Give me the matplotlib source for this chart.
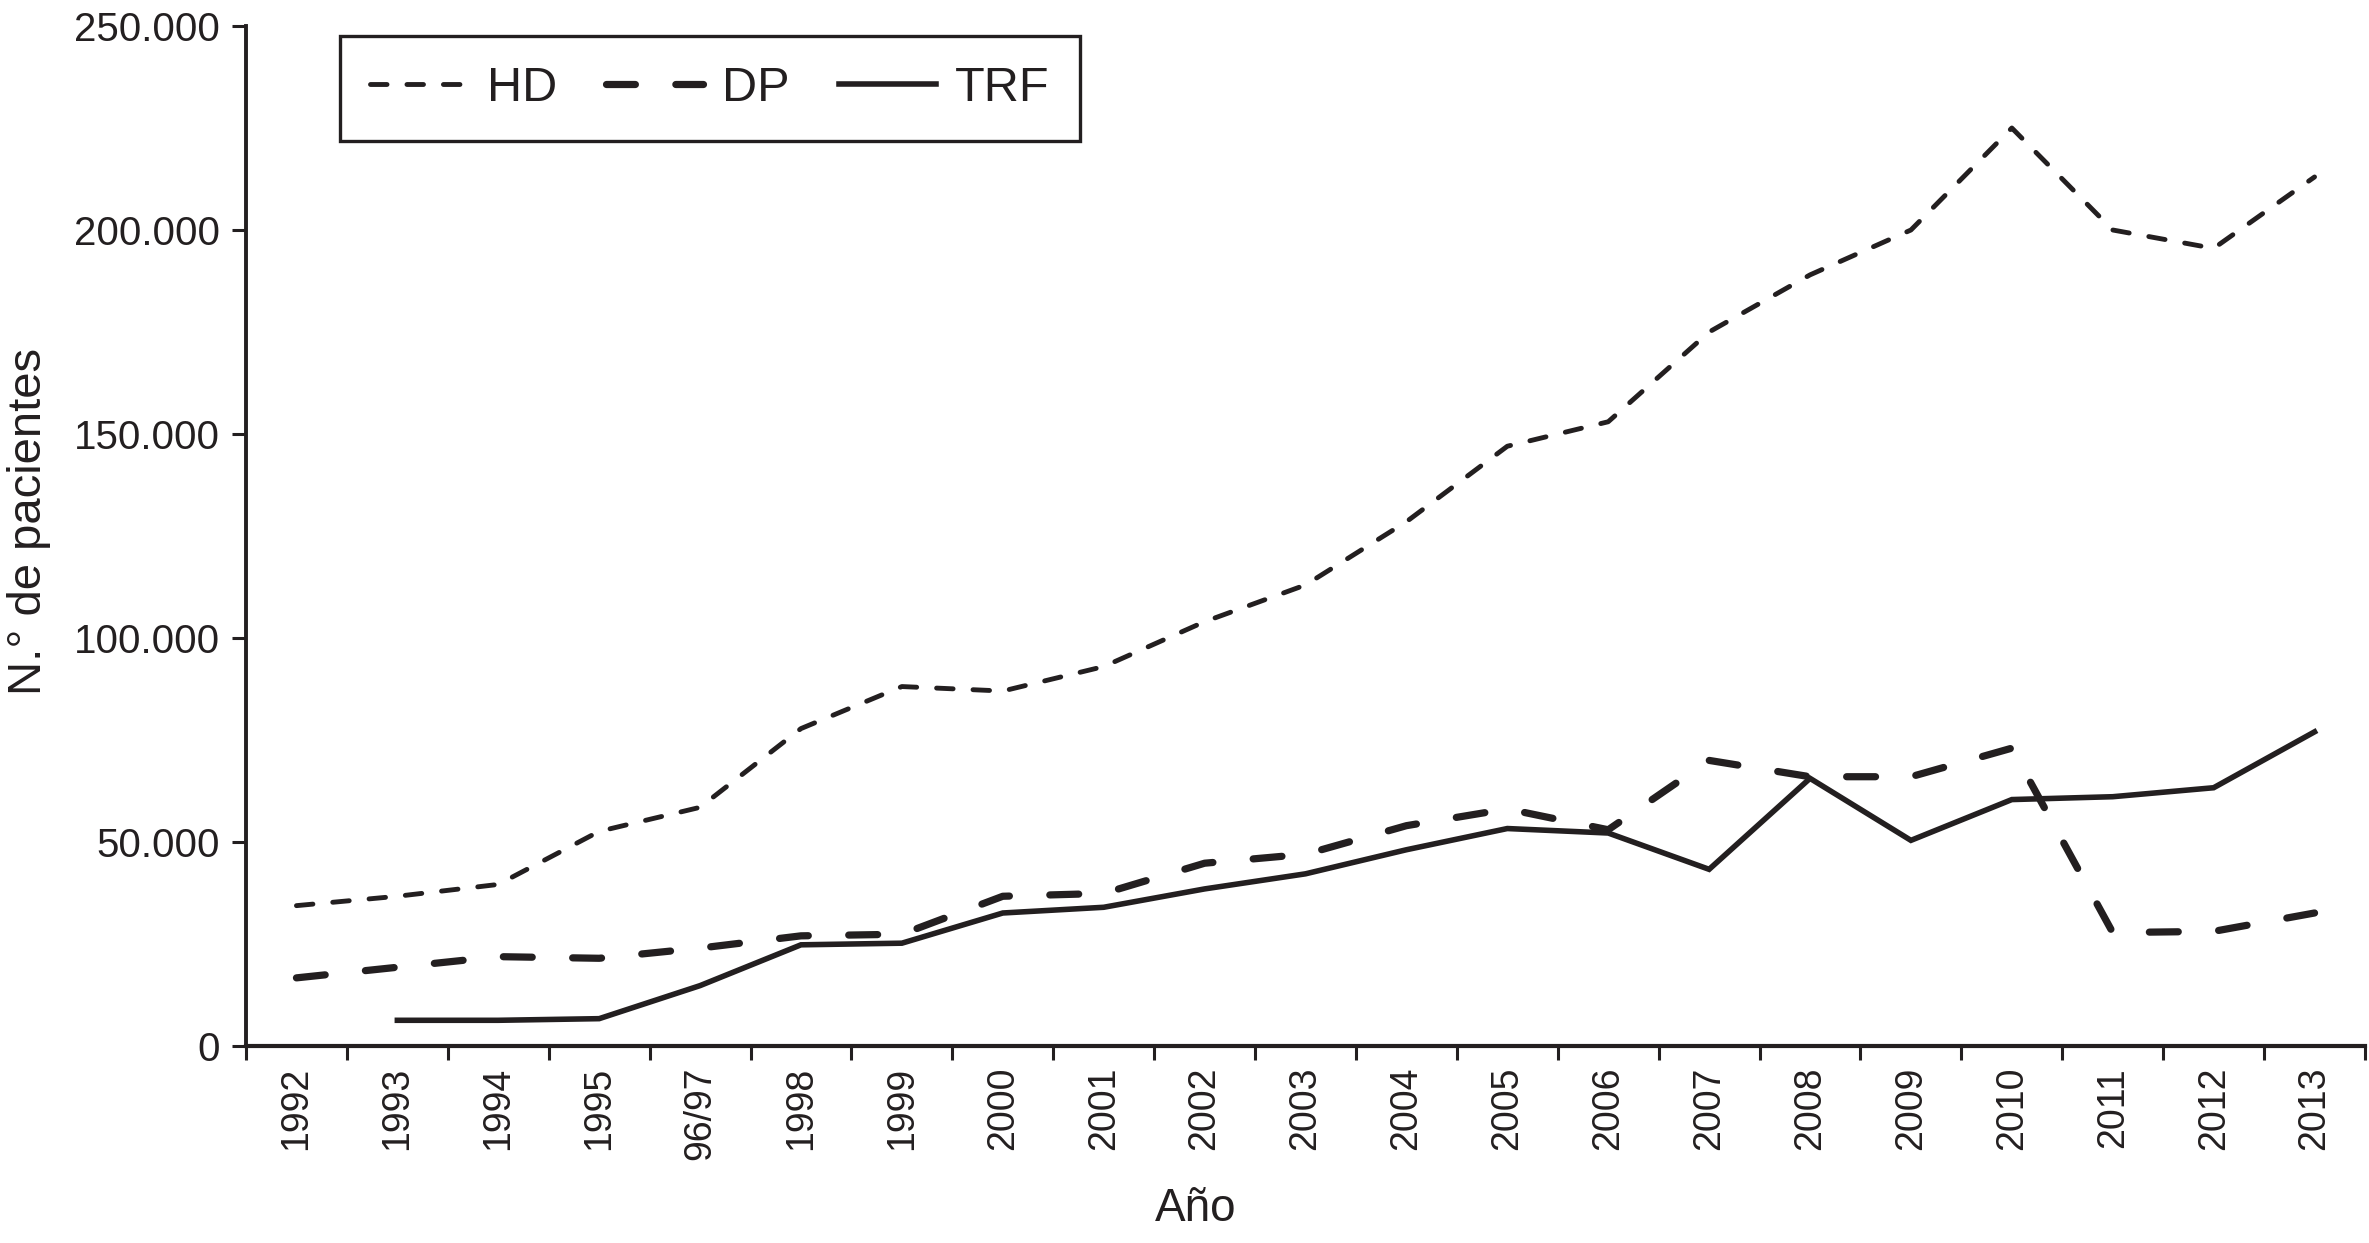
import numpy as np
import matplotlib
matplotlib.use('Agg')
import matplotlib.pyplot as plt

plt.rcParams['font.family'] = ['Liberation Sans', 'DejaVu Sans']

YEARS = ['1992', '1993', '1994', '1995', '96/97', '1998', '1999', '2000',
         '2001', '2002', '2003', '2004', '2005', '2006', '2007', '2008',
         '2009', '2010', '2011', '2012', '2013']
HD  = [34400, 36700, 39600, 52600, 58500, 77800, 88100, 87000, 93000, 104000,
       113000, 128500, 147000, 153000, 175000, 189000, 200000, 225000, 200000,
       195500, 213000]
DP  = [16700, 19300, 21900, 21500, 24000, 27000, 27400, 36700, 37400, 44800,
       47000, 54000, 58100, 53000, 70000, 66000, 66000, 73000, 27800, 28100,
       32600]
TRF = [np.nan, 6300, 6300, 6700, 14800, 24800, 25200, 32600, 34000, 38500,
       42200, 48100, 53300, 52200, 43300, 65600, 50400, 60400, 61100, 63300,
       77000]
YTICKS = [0, 50000, 100000, 150000, 200000, 250000]
YTICKLABELS = ['0', '50.000', '100.000', '150.000', '200.000', '250.000']

INK = '#231f20'

x = np.arange(len(YEARS))
fig = plt.figure(figsize=(23.69, 12.43), dpi=100)
ax = fig.add_axes([246/2369, 1 - 1046/1243, (2365-246)/2369, (1046-26)/1243])

ax.plot(x, HD, color=INK, lw=3.5, dashes=(3.4, 4.1), dash_capstyle='round',
        label='HD')
ax.plot(x, DP, color=INK, lw=5.2, dashes=(4.0, 5.6), dash_capstyle='round',
        label='DP')
ax.plot(x, TRF, color=INK, lw=4.0, solid_joinstyle='miter', label='TRF')

ax.set_xlim(-0.5, len(YEARS) - 0.5)
ax.set_ylim(0, 250000)
ax.set_yticks(YTICKS)
ax.set_yticklabels(YTICKLABELS)
ax.set_xticks(x)
ax.set_xticklabels(YEARS, rotation=90)
ax.set_xticks(np.arange(len(YEARS) + 1) - 0.5, minor=True)
ax.tick_params(axis='x', which='major', length=0, pad=15, labelsize=27,
               labelcolor=INK)
ax.tick_params(axis='x', which='minor', length=10, width=2.2, color=INK)
ax.tick_params(axis='y', length=10, width=2.2, labelsize=29, pad=9,
               color=INK, labelcolor=INK)

for sp in ['top', 'right']:
    ax.spines[sp].set_visible(False)
ax.spines['left'].set_linewidth(2.8)
ax.spines['bottom'].set_linewidth(3.0)
ax.spines['left'].set_color(INK)
ax.spines['bottom'].set_color(INK)

ax.set_xlabel('Año', fontsize=33, color=INK)
ax.xaxis.set_label_coords(0.448, -0.138)
ax.set_ylabel('N.° de pacientes', fontsize=34, color=INK)
ax.yaxis.set_label_coords(-0.092, 0.514)

leg = ax.legend(ncol=3, loc='upper left', bbox_to_anchor=(0.0444, 0.990),
                borderaxespad=0, fontsize=35, frameon=True, fancybox=False,
                framealpha=1, edgecolor=INK, handlelength=2.0,
                handletextpad=0.4, columnspacing=1.0, borderpad=0.62,
                labelcolor=INK)
leg.get_frame().set_linewidth(2.4)

fig.savefig('out.png', dpi=100)
